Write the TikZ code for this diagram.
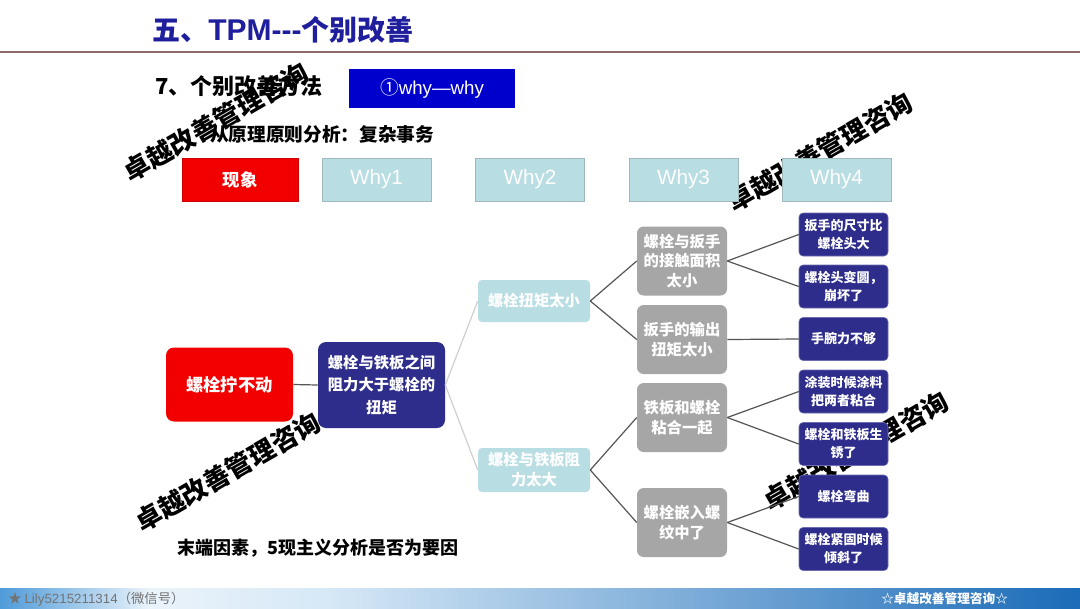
\documentclass[tikz,border=0pt]{standalone}
\usepackage{fontspec}
\setmainfont{Noto Sans CJK SC}
\newfontfamily\lat{Liberation Sans}
\definecolor{navy}{HTML}{2E2D8C}
\definecolor{lblue}{HTML}{B8DDE2}
\definecolor{lbluedraw}{HTML}{9FB8BE}
\definecolor{gbox}{HTML}{A6A6A6}
\definecolor{titleblue}{HTML}{1F1F9E}
\definecolor{wbox}{HTML}{0000CC}
\definecolor{redbox}{HTML}{F20000}
\definecolor{rule}{HTML}{8C6A6A}
\definecolor{lightline}{HTML}{CFCFCF}
\definecolor{darkline}{HTML}{555555}
\definecolor{footA}{HTML}{4F9BD9}
\definecolor{footB}{HTML}{EAF3FB}
\definecolor{footC}{HTML}{D6E8F6}
\definecolor{footD}{HTML}{1B6BB8}
\begin{document}
\begin{tikzpicture}[x=0.75pt,y=-0.75pt,
  wm/.style={font=\fontsize{19.5}{20}\selectfont\bfseries, text=black, inner sep=0pt, rotate=30},
  hdr/.style={draw=lbluedraw, fill=lblue, text=white, minimum width=81.75pt, minimum height=32.25pt, inner sep=0pt, font=\lat\fontsize{15.5}{16}\selectfont},
  rootbox/.style={fill=redbox, rounded corners=6pt, text=white, minimum width=95.25pt, minimum height=55.5pt, inner sep=0pt, font=\fontsize{13}{15}\selectfont\bfseries},
  midbox/.style={fill=navy, rounded corners=6pt, text=white, minimum width=95.25pt, minimum height=64.5pt, inner sep=0pt, align=center, font=\fontsize{11.5}{17}\selectfont\bfseries},
  lbbox/.style={fill=lblue, rounded corners=3pt, text=white, minimum width=84pt, inner sep=0pt, align=center, font=\fontsize{11.5}{15}\selectfont\bfseries},
  graybox/.style={fill=gbox, rounded corners=5pt, text=white, minimum width=67.5pt, minimum height=51.75pt, inner sep=0pt, align=center, font=\fontsize{11.5}{14.6}\selectfont\bfseries},
  navybox/.style={fill=navy, draw=navy!70!white, rounded corners=3pt, text=white, minimum width=66.75pt, minimum height=32.25pt, inner sep=0pt, align=center, font=\fontsize{9.75}{13.5}\selectfont\bfseries},
  lline/.style={draw=lightline, line width=0.9pt},
  dline/.style={draw=darkline, line width=0.9pt}
]
\useasboundingbox (0,0) rectangle (1080,608);
\fill[white] (0,0) rectangle (1080,608);

% watermarks (behind)
\node[wm] (wm1) at (216,122) {卓越改善管理咨询};
\node[wm] (wm2) at (820,152) {卓越改善管理咨询};
\node[wm] (wm3) at (228,472) {卓越改善管理咨询};
\node[wm] (wm4) at (856,451) {卓越改善管理咨询};

% title and rule
\node[anchor=west, inner sep=0pt, text=titleblue, font=\fontsize{21}{23}\selectfont\bfseries] (title) at (152,30) {五、{\lat\fontsize{22.5}{23}\selectfont TPM-{}-{}-}个别改善};
\coordinate (ruleL) at (0,52);
\coordinate (ruleR) at (1080,52);
\draw[rule, line width=1.4pt] (ruleL) -- (ruleR);

\node[anchor=west, inner sep=0pt, font=\fontsize{16.5}{18}\selectfont\bfseries] (method) at (155,86) {7、个别改善方法};
\node[fill=wbox, text=white, minimum width=124.5pt, minimum height=29pt, inner sep=0pt, font=\fontsize{14}{16}\selectfont] (whybtn) at (432,88.5) {①{\lat why—why}};
\node[anchor=west, inner sep=0pt, font=\fontsize{14}{16}\selectfont\bfseries] (principle) at (210,134) {从原理原则分析：复杂事务};

% header row
\node[fill=redbox, draw=red!80!black, text=white, minimum width=87pt, minimum height=32.25pt, inner sep=0pt, font=\fontsize{13}{15}\selectfont\bfseries] (h0) at (240,179.5) {现象};
\node[hdr] (h1) at (376.5,179.5) {Why1};
\node[hdr] (h2) at (530,179.5) {Why2};
\node[hdr] (h3) at (683.5,179.5) {Why3};
\node[hdr] (h4) at (836.5,179.5) {Why4};

% tree
\node[rootbox] (root) at (229.5,384.5) {螺栓拧不动};
\node[midbox] (mid) at (381.5,385) {螺栓与铁板之间\\阻力大于螺栓的\\扭矩};
\node[lbbox, minimum height=31.5pt] (w2a) at (534,301) {螺栓扭矩太小};
\node[lbbox, minimum height=33pt] (w2b) at (534,470) {螺栓与铁板阻\\力太大};

\node[graybox] (g1) at (682,261) {螺栓与扳手\\的接触面积\\太小};
\node[graybox] (g2) at (682,339.5) {扳手的输出\\扭矩太小};
\node[graybox] (g3) at (682,417.5) {铁板和螺栓\\粘合一起};
\node[graybox] (g4) at (682,522.5) {螺栓嵌入螺\\纹中了};

\node[navybox] (n1) at (843.5,234.5) {扳手的尺寸比\\螺栓头大};
\node[navybox] (n2) at (843.5,286.5) {螺栓头变圆，\\崩坏了};
\node[navybox] (n3) at (843.5,339) {手腕力不够};
\node[navybox] (n4) at (843.5,391.5) {涂装时候涂料\\把两者粘合};
\node[navybox] (n5) at (843.5,444) {螺栓和铁板生\\锈了};
\node[navybox] (n6) at (843.5,496.5) {螺栓弯曲};
\node[navybox] (n7) at (843.5,549) {螺栓紧固时候\\倾斜了};

% connectors
\draw[dline] (root.east) -- (mid.west);
\draw[lline] (mid.east) -- (w2a.west);
\draw[lline] (mid.east) -- (w2b.west);
\draw[dline] (w2a.east) -- (g1.west);
\draw[dline] (w2a.east) -- (g2.west);
\draw[dline] (w2b.east) -- (g3.west);
\draw[dline] (w2b.east) -- (g4.west);
\draw[dline] (g1.east) -- (n1.west);
\draw[dline] (g1.east) -- (n2.west);
\draw[dline] (g2.east) -- (n3.west);
\draw[dline] (g3.east) -- (n4.west);
\draw[dline] (g3.east) -- (n5.west);
\draw[dline] (g4.east) -- (n6.west);
\draw[dline] (g4.east) -- (n7.west);

\node[anchor=west, inner sep=0pt, font=\fontsize{13.5}{15}\selectfont\bfseries] (note) at (177,548) {末端因素，5现主义分析是否为要因};

% footer band
\fill[left color=footA, right color=footB] (0,588) rectangle (150,608);
\fill[left color=footB, right color=footC] (150,588) rectangle (330,608);
\fill[left color=footC, right color=footD] (330,588) rectangle (1080,608);
\node[anchor=west, inner sep=0pt, text=black!55, font=\fontsize{10}{11}\selectfont] (footL) at (8,599) {★ {\lat Lily5215211314}（微信号）};
\node[anchor=west, inner sep=0pt, text=white, font=\fontsize{9.5}{11}\selectfont\bfseries] (footR) at (881,599) {☆卓越改善管理咨询☆};
\end{tikzpicture}
\end{document}
